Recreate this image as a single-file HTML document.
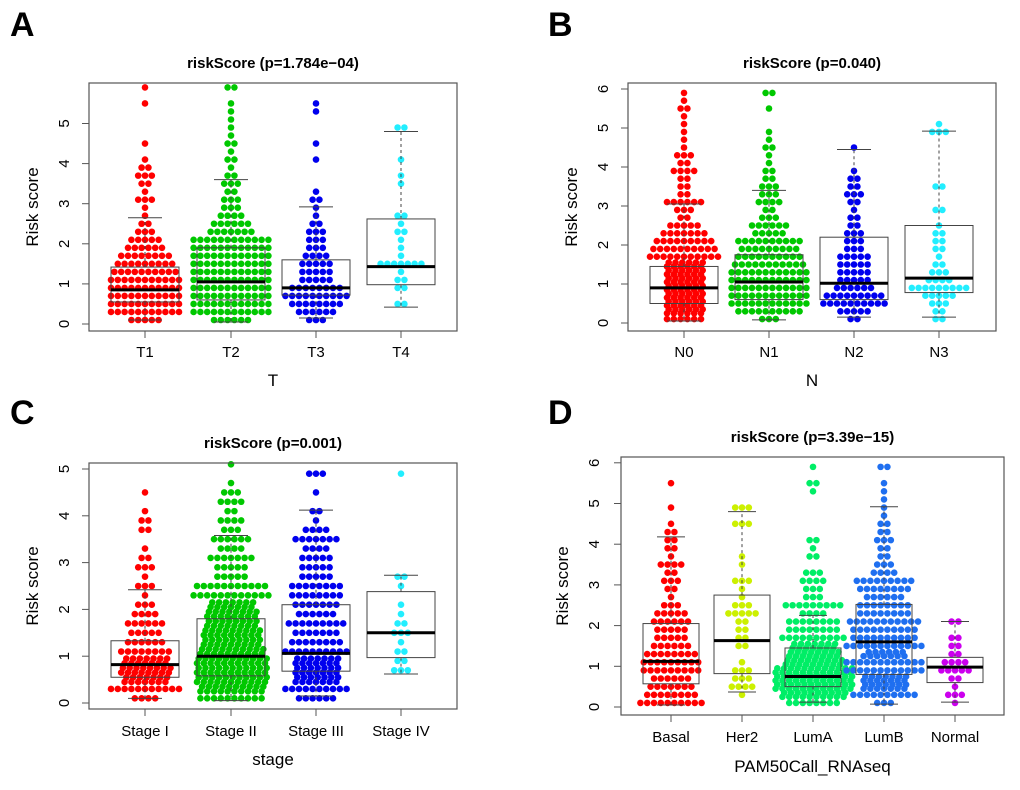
<!DOCTYPE html>
<html><head><meta charset="utf-8"><style>
body{margin:0;background:#fff}
svg text{font-family:"Liberation Sans",Arial,sans-serif}
</style></head><body>
<svg id="fig" width="1020" height="785" viewBox="0 0 1020 785"></svg>
<script>
// ---- data (counts of points per 0.2-wide risk score bin, starting at 0) ----
const catsA = ["T1","T2","T3","T4"];
const binsA_T1 = [5,11,11,11,11,11,10,9,8,6,5,3,2,1,1,3,1,2,3,2,1,0,1,0,0,0,0,1,0,1];
const binsA_T2 = [6,12,12,12,12,12,12,12,12,12,12,7,6,4,3,3,2,3,2,1,2,1,2,1,1,1,1,1,0,2];
const binsA_T3 = [3,6,8,10,8,5,5,5,4,3,3,3,2,1,1,2,1,0,0,0,1,0,1,0,0,0,1,1,0,0];
const binsA_T4 = [0,0,2,0,2,2,1,7,1,1,1,2,1,2,0,0,0,1,1,0,1,0,0,0,2,0,0,0,0,0];
const boxA = [[0.1,0.55,0.85,1.42,2.65],[0.05,0.6,1.05,1.9,3.6],[0.15,0.72,0.9,1.6,2.92],[0.42,0.98,1.43,2.62,4.8]];
const ticksA = [0,1,2,3,4,5];

const catsB = ["N0","N1","N2","N3"];
const binsB_N0 = [6,12,12,12,12,12,12,12,11,10,9,7,5,2,3,6,2,2,2,4,2,3,1,1,1,1,1,2,1,1];
const binsB_N1 = [3,10,12,12,12,12,12,11,10,9,10,5,6,3,2,4,3,3,2,2,1,1,2,1,1,0,0,1,0,2];
const binsB_N2 = [2,5,10,9,6,5,5,5,5,3,3,3,2,2,1,2,3,2,2,1,0,0,1,0,0,0,0,0,0,0];
const binsB_N3 = [2,2,3,5,9,4,3,2,1,2,2,2,1,0,2,0,0,2,0,0,0,0,0,0,3,1,0,0,0,0];
const boxB = [[0.05,0.5,0.9,1.45,3.05],[0.08,0.6,1.05,1.75,3.4],[0.15,0.6,1.02,2.2,4.45],[0.15,0.78,1.15,2.5,4.92]];
const ticksB = [0,1,2,3,4,5,6];

const catsC = ["Stage I","Stage II","Stage III","Stage IV"];
const binsC_I = [4,11,14,16,14,8,6,5,6,4,3,1,3,1,3,2,1,0,2,2,1,0,1,0,0,0];
const binsC_II = [10,20,22,22,22,20,18,18,16,16,14,12,11,5,5,7,4,6,3,4,2,4,3,1,0,1];
const binsC_III = [6,10,14,14,14,10,8,7,9,6,7,8,8,5,5,5,4,7,4,1,2,0,1,0,3,0];
const binsC_IV = [0,0,0,3,2,2,1,3,2,1,1,0,1,2,0,0,0,0,0,0,0,0,0,0,1,0];
const boxC = [[0.1,0.55,0.82,1.33,2.42],[0.05,0.58,1.0,1.8,3.58],[0.15,0.68,1.06,2.1,4.12],[0.62,0.97,1.5,2.38,2.73]];
const ticksC = [0,1,2,3,4,5];

const catsD = ["Basal","Her2","LumA","LumB","Normal"];
const binsD_Basal = [10,8,7,6,9,9,8,6,5,5,6,5,3,1,2,3,2,4,1,2,2,2,1,0,1,0,0,1,0,0];
const binsD_Her2 = [0,1,4,3,3,1,0,2,2,2,2,5,3,1,1,3,0,1,1,0,0,0,3,0,3,0,0,0,0,0];
const binsD_LumA = [8,20,24,24,24,18,16,14,10,8,8,4,9,3,3,4,3,0,2,1,2,0,0,0,0,0,1,2,0,1];
const binsD_LumB = [3,10,14,14,12,12,13,12,10,10,11,8,8,6,8,9,4,3,2,2,3,2,2,1,1,1,1,1,0,2];
const binsD_Normal = [1,3,1,2,5,4,2,2,2,0,2,0,0,0,0,0,0,0,0,0,0,0,0,0,0,0,0,0,0,0];
const boxD = [[0.05,0.57,1.12,2.05,4.18],[0.37,0.82,1.63,2.75,4.8],[0.12,0.5,0.75,1.45,2.25],[0.07,0.8,1.6,2.52,4.92],[0.12,0.6,0.98,1.22,2.1]];
const ticksD = [0,1,2,3,4,5,6];

const NS = "http://www.w3.org/2000/svg";
const svg = document.getElementById("fig");
function mk(tag, attrs, parent){const e=document.createElementNS(NS,tag);for(const k in attrs)e.setAttribute(k,attrs[k]);(parent||svg).appendChild(e);return e;}

const panels = [
 {letter:"A",lx:10,ly:36,title:"riskScore (p=1.784e\u221204)",x0:89,x1:457,y0:83,y1:331,yZero:324,yPer:40.1,
  cats:catsA,bins:[binsA_T1,binsA_T2,binsA_T3,binsA_T4],box:boxA,ticks:ticksA,xs:[145,231,316,401],
  colors:["#ff0000","#00c800","#0000ee","#22eeff"],maxRow:[11,12,10,8],half:34,xtitle:"T",tickX:69,ytX:38,xlabY:352,xtY:380},
 {letter:"B",lx:548,ly:36,title:"riskScore (p=0.040)",x0:628,x1:996,y0:83,y1:331,yZero:323,yPer:39,
  cats:catsB,bins:[binsB_N0,binsB_N1,binsB_N2,binsB_N3],box:boxB,ticks:ticksB,xs:[684,769,854,939],
  colors:["#ff0000","#00c800","#0000ee","#22eeff"],maxRow:[11,12,10,9],half:34,xtitle:"N",tickX:608,ytX:577,xlabY:352,xtY:380},
 {letter:"C",lx:10,ly:424,title:"riskScore (p=0.001)",x0:89,x1:457,y0:463,y1:709,yZero:703,yPer:46.8,
  cats:catsC,bins:[binsC_I,binsC_II,binsC_III,binsC_IV],box:boxC,ticks:ticksC,xs:[145,231,316,401],
  colors:["#ff0000","#00c800","#0000ee","#22eeff"],maxRow:[11,12,10,8],half:34,xtitle:"stage",tickX:69,ytX:38,xlabY:731,xtY:759},
 {letter:"D",lx:548,ly:424,title:"riskScore (p=3.39e\u221215)",x0:621,x1:1004,y0:457,y1:715,yZero:707,yPer:40.7,
  cats:catsD,bins:[binsD_Basal,binsD_Her2,binsD_LumA,binsD_LumB,binsD_Normal],box:boxD,ticks:ticksD,xs:[671,742,813,884,955],
  colors:["#ff0000","#ccf000","#00ee66","#1f6ff0","#cc00ee"],maxRow:[11,8,12,12,5],half:28,xtitle:"PAM50Call_RNAseq",tickX:599,ytX:568,xlabY:737,xtY:766}
];

panels.forEach(p=>{
  const g = mk("g",{});
  
  
  const Y = v => p.yZero - v*p.yPer;
  const L = mk("text",{x:p.lx,y:p.ly,"font-size":"34","font-weight":"bold",fill:"#000"},g); L.textContent=p.letter;
  
  
  const T = mk("text",{x:(p.x0+p.x1)/2,y:p.y0-15,"font-size":"15","font-weight":"bold","text-anchor":"middle"},g); T.textContent=p.title;
  
  
  p.bins.forEach((arr,ci)=>{
    const pg = mk("g",{fill:p.colors[ci]},g);
    
    
    arr.forEach((n,bi)=>{
      if(!n) return;
      const rows = Math.ceil(n/p.maxRow[ci]);
      let left = n;
      for(let r=0;r<rows;r++){
        const m = Math.ceil(left/(rows-r)); left -= m;
        const v = bi*0.2 + (r+0.5)/rows*0.2;
        const off = (rows>1 && r%2) ? 3.4 : 0;
        for(let j=0;j<m;j++){
          const c = mk("circle",{cx:p.xs[ci]+(j-(m-1)/2)*6.8+off*0.5,cy:Y(v),r:3.3},pg);
          
          
        }
      }
    });
  });
  p.box.forEach((b,ci)=>{
    const bg = mk("g",{stroke:"#444","stroke-width":"1",fill:"none"},g);
    
    
    const x=p.xs[ci],h=p.half,cap=h/2;
    mk("line",{x1:x,x2:x,y1:Y(b[3]),y2:Y(b[4]),"stroke-dasharray":"3,3"},bg);
    mk("line",{x1:x,x2:x,y1:Y(b[1]),y2:Y(b[0]),"stroke-dasharray":"3,3"},bg);
    mk("line",{x1:x-cap,x2:x+cap,y1:Y(b[4]),y2:Y(b[4])},bg);
    mk("line",{x1:x-cap,x2:x+cap,y1:Y(b[0]),y2:Y(b[0])},bg);
    mk("rect",{x:x-h,y:Y(b[3]),width:2*h,height:Y(b[1])-Y(b[3])},bg);
    mk("line",{x1:x-h,x2:x+h,y1:Y(b[2]),y2:Y(b[2]),stroke:"#000","stroke-width":"3"},bg);
  });
  const fr = mk("rect",{x:p.x0,y:p.y0,width:p.x1-p.x0,height:p.y1-p.y0,fill:"none",stroke:"#555","stroke-width":"1.2"},g);
  
  
  const ya = mk("g",{},g);
  
  
  p.ticks.forEach(t=>{
    mk("line",{x1:p.x0,x2:p.x0-7,y1:Y(t),y2:Y(t),stroke:"#555"},ya);
    const tx = mk("text",{x:p.tickX,y:Y(t),"font-size":"15","text-anchor":"middle",transform:`rotate(-90 ${p.tickX} ${Y(t)})`},ya);
    tx.textContent=t;
  });
  const yt = mk("text",{x:p.ytX,y:(p.y0+p.y1)/2,"font-size":"17","text-anchor":"middle",transform:`rotate(-90 ${p.ytX} ${(p.y0+p.y1)/2})`},g);
  yt.textContent="Risk score";
  
  
  const xa = mk("g",{},g);
  
  
  p.cats.forEach((c,ci)=>{
    mk("line",{x1:p.xs[ci],x2:p.xs[ci],y1:p.y1,y2:p.y1+7,stroke:"#555"},xa);
    const tx = mk("text",{x:p.xs[ci],y:p.xlabY+5,"font-size":"15","text-anchor":"middle"},xa);
    tx.textContent=c;
  });
  const xt = mk("text",{x:(p.x0+p.x1)/2,y:p.xtY+6,"font-size":"17","text-anchor":"middle"},g);
  xt.textContent=p.xtitle;
  
  
});
</script>
</body></html>
